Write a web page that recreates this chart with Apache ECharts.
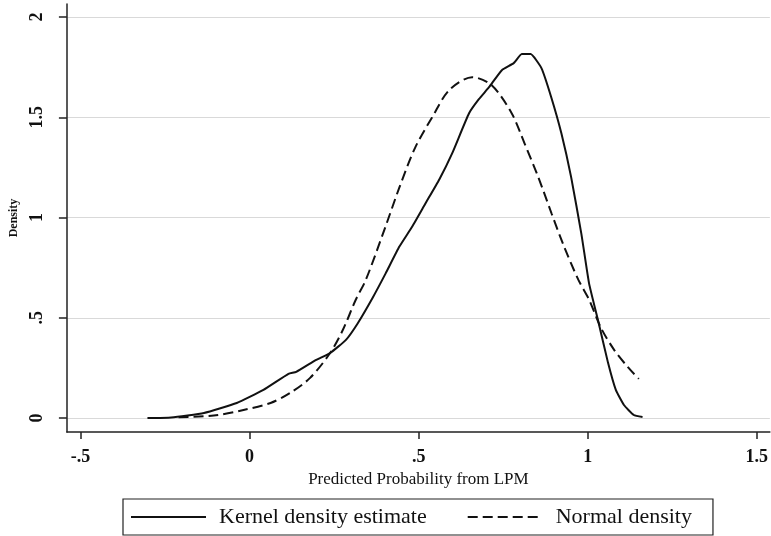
<!DOCTYPE html>
<html>
<head>
<meta charset="utf-8">
<script src="https://cdn.jsdelivr.net/npm/echarts@6/dist/echarts.min.js"></script>
<style>
  html, body { margin: 0; padding: 0; background: #fff; }
  #chart { width: 771px; height: 536px; }
</style>
</head>
<body>
<div id="chart"></div>
<script>
// Predicted probability from the linear probability model
const kernelX = [-0.302, -0.232, -0.135, -0.038, 0.041, 0.115, 0.138, 0.197, 0.238, 0.285,
  0.320, 0.364, 0.402, 0.443, 0.481, 0.520, 0.561, 0.599, 0.649, 0.678,
  0.708, 0.746, 0.781, 0.805, 0.831, 0.863, 0.892, 0.922, 0.951, 0.981,
  1.004, 1.030, 1.060, 1.083, 1.107, 1.136, 1.162];
const kernelY = [0.000, 0.003, 0.025, 0.075, 0.140, 0.220, 0.230, 0.290, 0.324, 0.390,
  0.473, 0.600, 0.720, 0.855, 0.955, 1.070, 1.190, 1.320, 1.520, 1.590,
  1.650, 1.735, 1.770, 1.815, 1.815, 1.745, 1.600, 1.420, 1.200, 0.920,
  0.670, 0.490, 0.275, 0.140, 0.065, 0.015, 0.005];

const normalX = [-0.210, -0.106, -0.018, 0.062, 0.120, 0.179, 0.238, 0.276, 0.314, 0.344,
  0.402, 0.443, 0.490, 0.540, 0.590, 0.658, 0.716, 0.775, 0.813, 0.854,
  0.893, 0.930, 0.972, 1.004, 1.039, 1.078, 1.118, 1.151];
const normalY = [0.004, 0.012, 0.040, 0.075, 0.125, 0.200, 0.324, 0.440, 0.590, 0.690,
  0.955, 1.150, 1.350, 1.500, 1.635, 1.700, 1.660, 1.520, 1.370, 1.200,
  1.020, 0.855, 0.690, 0.590, 0.450, 0.340, 0.255, 0.195];

const xTicks = [-0.5, 0, 0.5, 1, 1.5];
const xTickLabels = ['-.5', '0', '.5', '1', '1.5'];
const yTicks = [0, 0.5, 1, 1.5, 2];
const yTickLabels = ['0', '.5', '1', '1.5', '2'];

const seriesNames = ['Kernel density estimate', 'Normal density'];

const pairs = (xs, ys) => xs.map((x, i) => [x, ys[i]]);
const labelFor = (ticks, labels) => v => {
  const i = ticks.findIndex(t => Math.abs(t - v) < 1e-9);
  return i >= 0 ? labels[i] : '';
};

const serif = '"Liberation Serif", "DejaVu Serif", serif';
const ink = '#111';

const chart = echarts.init(document.getElementById('chart'), null, { renderer: 'canvas' });
chart.setOption({
  backgroundColor: '#fff',
  animation: false,
  grid: { left: 62, right: 1, top: 4, bottom: 104, containLabel: false },
  xAxis: {
    type: 'value',
    min: -0.5402,
    max: 1.5385,
    name: 'Predicted Probability from LPM',
    nameLocation: 'middle',
    nameGap: 37,
    nameTextStyle: { fontFamily: serif, fontSize: 17, color: ink },
    axisLine: { show: true, onZero: false, lineStyle: { color: '#222', width: 1.5 } },
    axisTick: { show: true, length: 7, customValues: xTicks, lineStyle: { color: '#222', width: 1.5 } },
    axisLabel: {
      customValues: xTicks,
      formatter: labelFor(xTicks, xTickLabels),
      margin: 16,
      fontFamily: serif, fontSize: 18, fontWeight: 'bold', color: ink
    },
    splitLine: { show: false }
  },
  yAxis: {
    type: 'value',
    min: -0.0698,
    max: 2.065,
    name: 'Density',
    nameLocation: 'middle',
    nameGap: 37,
    nameRotate: 90,
    nameTextStyle: { fontFamily: serif, fontSize: 12, fontWeight: 'bold', color: ink },
    axisLine: { show: true, onZero: false, lineStyle: { color: '#222', width: 1.5 } },
    axisTick: { show: true, length: 8, customValues: yTicks, lineStyle: { color: '#222', width: 1.5 } },
    axisLabel: {
      customValues: yTicks,
      formatter: labelFor(yTicks, yTickLabels),
      rotate: 90,
      margin: 21,
      fontFamily: serif, fontSize: 18, fontWeight: 'bold', color: ink
    },
    splitLine: { show: true, lineStyle: { color: '#d9d9d9', width: 1.2 } }
  },
  legend: {
    data: seriesNames,
    left: 123,
    top: 499,
    orient: 'horizontal',
    itemWidth: 75,
    itemHeight: 14,
    itemGap: 40,
    padding: [7, 21, 7, 7],
    borderColor: '#222',
    borderWidth: 1.2,
    itemStyle: { opacity: 0 },
    textStyle: { fontFamily: serif, fontSize: 22, color: ink, padding: [0, 0, 0, 8] }
  },
  series: [
    {
      name: seriesNames[0],
      type: 'line',
      data: pairs(kernelX, kernelY),
      showSymbol: false,
      symbol: 'none',
      smooth: 0.15,
      lineStyle: { color: ink, width: 2 },
      itemStyle: { color: ink }
    },
    {
      name: seriesNames[1],
      type: 'line',
      data: pairs(normalX, normalY),
      showSymbol: false,
      symbol: 'none',
      smooth: 0.3,
      lineStyle: { color: ink, width: 2, type: [10, 5] },
      itemStyle: { color: ink }
    }
  ]
});
</script>
</body>
</html>
